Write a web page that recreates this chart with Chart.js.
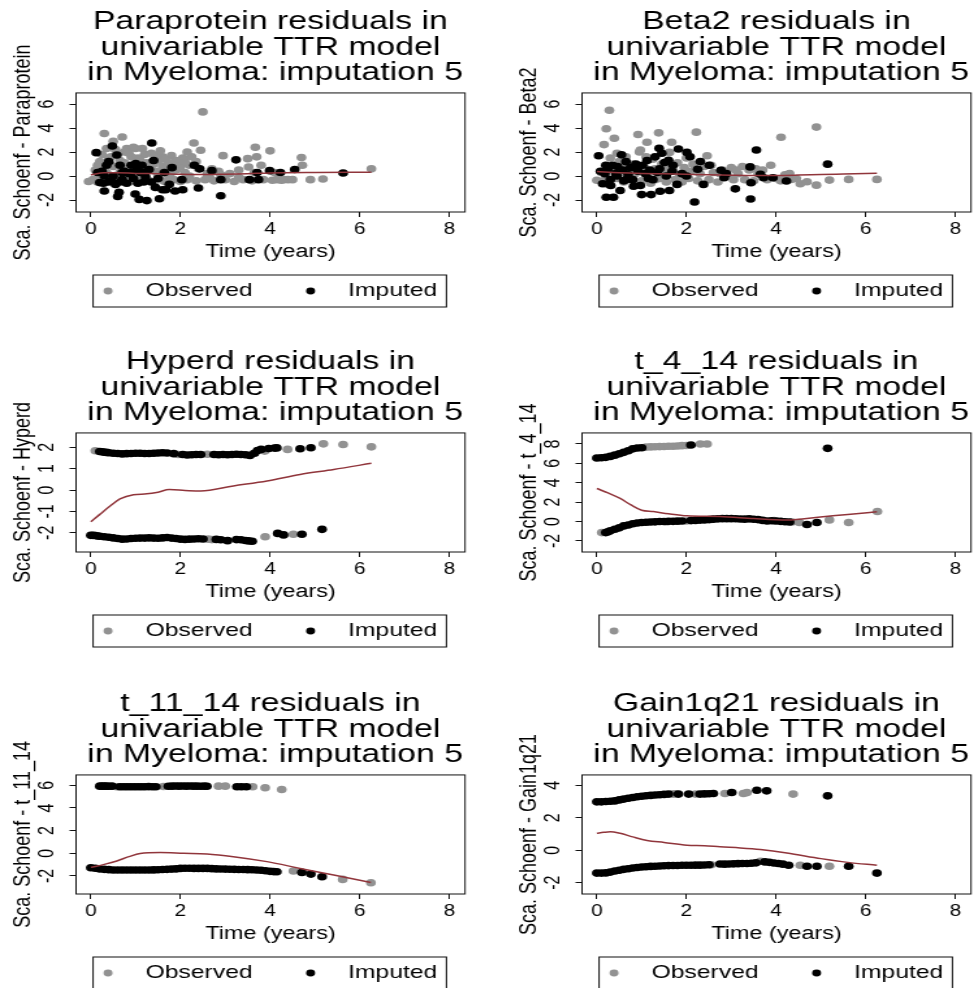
<!DOCTYPE html>
<html>
<head>
<meta charset="utf-8">
<script src="https://cdn.jsdelivr.net/npm/chart.js@4.4.1/dist/chart.umd.min.js"></script>
<style>
  html, body { margin: 0; padding: 0; background: #fff; }
  body { width: 974px; height: 988px; overflow: hidden; position: relative; }
  /* panels are laid out narrow and stretched sideways, like the exported graph */
  .panel { position: absolute; width: 416px; height: 340px; transform: scaleX(1.3); transform-origin: 0 0; }
</style>
</head>
<body>
<div class="panel" style="left:0;top:0"><canvas id="pPara" width="416" height="340"></canvas></div>
<div class="panel" style="left:506px;top:0"><canvas id="pBeta" width="416" height="340"></canvas></div>
<div class="panel" style="left:0;top:340px"><canvas id="pHyp" width="416" height="340"></canvas></div>
<div class="panel" style="left:506px;top:340px"><canvas id="p414" width="416" height="340"></canvas></div>
<div class="panel" style="left:0;top:682px"><canvas id="p1114" width="416" height="340"></canvas></div>
<div class="panel" style="left:506px;top:682px"><canvas id="pGain" width="416" height="340"></canvas></div>
<script>
// ── data: [time, scaled Schoenfeld residual] ────────────────────────────────
const X_TICKS = [0, 2, 4, 6, 8];

const paraObs = [[-0.05,-0.45],[0.05,-0.3],[0.15,-0.5],[0.2,1.2],[0.25,0.6],[0.3,3.55],[0.33,-0.2],[0.4,1.5],[0.45,0.9],[0.5,2.9],
  [0.55,-0.45],[0.6,1.9],[0.65,0.3],[0.7,3.25],[0.75,1.1],[0.8,2.3],[0.85,-0.3],[0.9,1.6],[0.95,0.6],[1.0,2.3],[1.05,-0.45],
  [1.1,1.3],[1.15,0.2],[1.2,1.8],[1.25,-0.3],[1.3,0.9],[1.35,1.9],[1.4,-0.5],[1.45,0.4],[1.5,1.3],[1.55,-0.3],[1.6,0.8],
  [1.65,-0.45],[1.7,0.2],[1.75,1.1],[1.8,1.7],[1.85,-0.3],[1.9,0.5],[1.95,1.0],[2.0,-0.45],[2.05,1.5],[2.1,0.3],[2.15,-0.3],
  [2.2,0.9],[2.3,2.75],[2.35,-0.4],[2.4,0.6],[2.45,2.15],[2.5,5.35],[2.55,-0.3],[2.6,0.2],[2.7,0.6],[2.75,-0.4],[2.85,0.4],
  [2.95,1.7],[3.0,-0.3],[3.1,0.2],[3.2,-0.45],[3.3,0.5],[3.4,-0.3],[3.5,1.45],[3.52,0.75],[3.6,-0.4],[3.67,2.4],[3.7,1.6],
  [3.8,0.9],[3.85,-0.3],[4.0,2.1],[4.05,-0.35],[4.15,-0.3],[4.3,-0.3],[4.4,-0.3],[4.7,1.55],[4.72,0.9],[4.9,-0.3],[5.18,-0.25],
  [6.26,0.6],[0.1,0.5],[0.2,-0.1],[0.35,0.3],[0.4,-0.4],[0.5,0.8],[0.6,-0.1],[0.7,0.6],[0.8,0.1],[0.9,-0.45],[1.0,0.9],
  [1.1,-0.2],[1.2,0.5],[1.3,-0.4],[1.4,1.0],[1.5,0.1],[1.6,1.6],[1.7,0.7],[1.8,0.3],[1.9,1.3],[2.0,0.8],[2.1,1.2],[2.2,0.0],
  [0.25,1.8],[0.55,2.2],[0.85,1.9],[1.15,2.3],[1.45,1.7],[1.75,0.0],[0.15,0.9],[0.45,1.6],[0.75,2.0],[1.05,1.5],[1.35,0.5],
  [2.25,1.6],[2.65,-0.1],[2.9,0.1],[3.3,-0.1],[3.65,0.3],[4.1,0.3],[4.5,-0.3],[4.25,-0.35],[0.65,1.3],[0.95,2.4],
  [1.25,1.1],[1.55,2.1],[1.85,0.9],[2.15,2.0],[0.35,2.3],[2.35,1.2],[1.65,1.4]];
const paraImp = [[0.12,1.95],[0.2,-0.55],[0.25,0.4],[0.3,-1.25],[0.35,0.9],[0.4,1.2],[0.45,-0.4],[0.48,2.5],[0.5,0.0],
  [0.55,-0.7],[0.58,1.75],[0.6,-1.7],[0.63,-1.35],[0.65,0.9],[0.7,-0.3],[0.75,0.4],[0.8,-0.6],[0.85,0.2],[0.9,0.9],
  [0.95,-0.2],[0.99,-1.5],[1.0,1.05],[1.03,0.5],[1.08,-1.95],[1.1,0.3],[1.14,0.9],[1.18,-0.5],[1.22,-0.05],[1.25,-2.05],
  [1.3,0.55],[1.36,2.75],[1.4,1.3],[1.44,-0.95],[1.5,-0.2],[1.53,-1.9],[1.6,-1.15],[1.64,0.3],[1.67,-1.15],[1.75,-0.7],
  [1.81,0.7],[1.88,-1.25],[2.03,-0.3],[2.05,-1.15],[2.31,0.9],[2.4,-1.0],[2.43,0.6],[2.7,0.45],[2.9,-0.3],[2.9,-1.65],
  [3.24,1.35],[3.54,-0.3],[3.71,0.3],[3.74,-0.3],[3.99,0.45],[4.23,0.3],[4.55,0.55],[5.63,0.25],[0.15,0.3],[0.3,0.0],
  [0.4,-0.5],[0.7,0.3],[0.9,0.3],[1.05,-0.6],[1.2,0.3],[1.35,-0.5],[0.28,-0.6],[0.65,-0.5]];
const paraFit = [[0,0.1],[0.3,0.28],[0.6,0.28],[1.0,0.22],[1.5,0.2],[2.0,0.14],[2.5,0.12],[3.0,0.15],[3.5,0.2],[4.0,0.26],
  [5.0,0.3],[6.26,0.32]];

const betaObs = [[0.0,-0.35],[0.1,0.3],[0.16,2.62],[0.21,3.94],[0.25,-0.7],[0.28,5.49],[0.3,1.5],[0.35,0.6],[0.39,3.15],
  [0.45,-0.2],[0.5,1.2],[0.55,0.3],[0.6,-0.5],[0.65,1.6],[0.7,0.5],[0.75,-0.3],[0.8,1.0],[0.85,0.2],[0.92,3.46],[0.95,2.0],
  [0.97,2.17],[1.0,-0.4],[1.05,0.8],[1.12,2.82],[1.15,0.3],[1.2,-0.6],[1.25,1.4],[1.3,0.6],[1.38,3.6],[1.4,-0.2],[1.45,1.0],
  [1.5,0.2],[1.55,-0.5],[1.62,1.97],[1.67,2.82],[1.7,0.5],[1.75,-0.3],[1.8,1.1],[1.85,0.1],[1.9,-0.5],[1.95,0.7],[2.0,1.5],
  [2.05,-0.2],[2.1,0.4],[2.15,1.0],[2.22,3.66],[2.25,-0.4],[2.3,0.2],[2.4,0.8],[2.46,1.69],[2.5,-0.3],[2.6,0.3],[2.7,-0.5],
  [2.8,0.5],[2.9,0.0],[3.0,0.7],[3.05,-0.3],[3.15,0.2],[3.25,0.8],[3.3,-0.3],[3.4,0.5],[3.5,-0.4],[3.6,0.2],[3.7,0.5],
  [3.8,-0.3],[3.88,0.9],[4.0,-0.2],[4.11,3.24],[4.2,0.1],[4.34,-0.28],[4.45,-0.2],[4.54,-0.65],[4.69,-0.48],[4.9,-0.76],
  [4.9,4.08],[5.19,-0.34],[5.62,-0.28],[6.25,-0.28],[0.2,-0.2],[0.45,1.9],[0.6,0.9],[0.9,-0.6],[1.1,1.6],[1.3,-0.3],
  [1.6,0.6],[2.2,0.6],[2.55,0.9],[2.75,0.2],[3.1,0.5],[3.55,0.6],[4.3,0.2],[4.1,-0.4]];
const betaImp = [[0.04,1.69],[0.08,0.4],[0.13,-0.65],[0.18,0.2],[0.21,-1.77],[0.25,0.6],[0.3,-0.3],[0.31,-0.79],[0.35,0.9],
  [0.37,-1.77],[0.42,0.2],[0.46,0.8],[0.52,-1.21],[0.55,1.77],[0.58,0.5],[0.6,-0.4],[0.65,1.2],[0.7,0.1],[0.75,0.7],
  [0.8,-0.3],[0.82,-0.85],[0.87,1.0],[0.92,0.4],[0.97,-0.79],[1.0,-1.55],[1.02,0.9],[1.08,0.2],[1.12,1.3],[1.18,0.5],
  [1.21,-1.55],[1.25,-0.3],[1.3,1.6],[1.35,0.3],[1.39,2.31],[1.41,-1.27],[1.45,1.9],[1.51,1.13],[1.55,0.0],[1.6,1.32],
  [1.62,-1.21],[1.68,0.4],[1.79,-0.7],[1.82,2.25],[1.9,0.2],[2.01,1.97],[2.08,1.61],[2.18,-2.17],[2.25,0.56],[2.31,1.21],
  [2.38,-0.7],[2.51,0.9],[2.77,0.48],[2.84,-0.14],[2.89,0.2],[3.09,-1.07],[3.42,0.76],[3.43,-1.92],[3.44,-0.56],[3.56,2.17],
  [3.65,0.14],[3.72,-0.14],[3.93,-0.14],[4.23,-0.42],[5.15,0.99],[0.65,-0.3],[0.9,0.7],[1.15,-0.2],[1.4,0.6],[1.7,0.9],
  [2.0,0.0],[0.45,0.0],[0.2,0.9]];
const betaFit = [[0,0.37],[0.5,0.28],[1.0,0.22],[1.5,0.18],[2.0,0.14],[2.5,0.1],[3.0,0.07],[3.5,0.05],[4.0,0.05],[4.5,0.08],
  [5.0,0.13],[5.5,0.17],[6.25,0.23]];

const hypObs = [[0.1,1.84],[1.95,1.66],[2.6,1.67],[3.88,1.82],[4.39,1.9],[5.19,2.16],[5.63,2.13],[6.26,2.02],
  [2.62,-2.3],[2.7,-2.32],[3.89,-2.19],[4.52,-2.07]];
const hypImp = [[0.2,1.8],[0.25,1.79],[0.3,1.77],[0.35,1.76],[0.4,1.74],[0.5,1.72],[0.6,1.71],[0.7,1.69],[0.8,1.7],
  [0.9,1.71],[1.0,1.72],[1.1,1.72],[1.2,1.71],[1.3,1.71],[1.4,1.72],[1.5,1.73],[1.6,1.74],[1.7,1.73],[1.85,1.7],[2.05,1.66],
  [2.15,1.64],[2.25,1.65],[2.35,1.66],[2.45,1.66],[2.75,1.66],[2.85,1.65],[2.95,1.66],[3.05,1.65],[3.15,1.66],[3.25,1.67],
  [3.35,1.66],[3.45,1.65],[3.55,1.62],[3.65,1.72],[3.72,1.85],[3.8,1.9],[3.97,1.94],[4.1,1.96],[4.15,1.97],[4.67,1.93],
  [4.91,1.98],
  [0.0,-2.12],[0.05,-2.12],[0.1,-2.13],[0.15,-2.15],[0.2,-2.16],[0.3,-2.19],[0.4,-2.21],[0.5,-2.24],[0.6,-2.27],[0.7,-2.3],
  [0.8,-2.29],[0.9,-2.27],[1.0,-2.26],[1.1,-2.25],[1.2,-2.25],[1.3,-2.24],[1.4,-2.25],[1.5,-2.26],[1.6,-2.24],[1.7,-2.22],
  [1.8,-2.25],[1.9,-2.27],[2.0,-2.3],[2.1,-2.31],[2.2,-2.3],[2.3,-2.29],[2.4,-2.28],[2.5,-2.29],[2.8,-2.31],[2.9,-2.33],
  [3.05,-2.37],[3.25,-2.32],[3.35,-2.33],[3.45,-2.36],[3.52,-2.38],[3.6,-2.4],[4.17,-2.03],[4.3,-2.1],[4.71,-2.07],[5.16,-1.84]];
const hypFit = [[0,-1.49],[0.2,-1.14],[0.43,-0.75],[0.65,-0.42],[0.95,-0.22],[1.25,-0.18],[1.5,-0.1],[1.75,0.02],
  [2.1,-0.02],[2.45,-0.05],[3.18,0.19],[3.93,0.42],[4.67,0.73],[5.42,0.96],[6.26,1.25]];

const t414Obs = [[1.1,7.68],[1.2,7.7],[1.3,7.72],[1.4,7.73],[1.5,7.74],[1.6,7.76],[1.7,7.77],[1.8,7.8],[1.9,7.83],[2.0,7.85],
  [2.31,8.0],[2.46,8.0],[0.11,-1.14],[1.55,-0.02],[2.0,0.06],[2.55,0.22],[3.95,0.1],[4.35,-0.05],[4.52,-0.1],[5.19,0.17],
  [5.62,-0.1],[6.26,1.03]];
const t414Imp = [[0.0,6.55],[0.1,6.58],[0.2,6.62],[0.3,6.72],[0.4,6.85],[0.5,7.0],[0.6,7.14],[0.7,7.3],[0.8,7.5],[0.9,7.58],
  [1.0,7.62],[2.1,7.9],[5.15,7.55],
  [0.2,-1.14],[0.25,-1.05],[0.3,-0.95],[0.4,-0.8],[0.5,-0.65],[0.6,-0.45],[0.7,-0.35],[0.8,-0.22],[0.9,-0.15],[1.0,-0.1],
  [1.1,-0.07],[1.2,-0.05],[1.3,-0.03],[1.4,0.0],[1.5,0.0],[1.6,0.02],[1.7,0.02],[1.8,0.04],[1.9,0.05],[2.1,0.1],[2.2,0.12],
  [2.3,0.15],[2.4,0.17],[2.5,0.2],[2.6,0.25],[2.7,0.28],[2.8,0.3],[2.9,0.3],[3.0,0.3],[3.1,0.29],[3.2,0.27],[3.3,0.25],
  [3.4,0.28],[3.5,0.24],[3.6,0.2],[3.7,0.12],[3.8,0.05],[3.9,0.08],[4.0,0.05],[4.1,0.02],[4.2,-0.02],[4.3,-0.05],
  [4.69,-0.31],[4.91,-0.1]];
const t414Fit = [[0,3.41],[0.25,2.95],[0.52,2.38],[0.75,1.75],[1.0,1.17],[1.26,1.03],[1.6,0.8],[2.01,0.59],[2.75,0.52],
  [3.5,0.31],[4.24,0.17],[4.99,0.48],[5.6,0.72],[6.25,1.0]];

const t1114Obs = [[0.58,5.88],[1.62,5.9],[2.85,5.93],[3.0,5.93],[3.61,5.88],[3.89,5.79],[4.26,5.64],
  [4.52,-1.57],[5.62,-2.31],[6.25,-2.61]];
const t1114Imp = [[0.2,5.93],[0.25,5.93],[0.3,5.93],[0.35,5.93],[0.4,5.92],[0.47,5.93],[0.65,5.88],[0.73,5.88],[0.81,5.88],
  [0.89,5.88],[0.97,5.88],[1.05,5.88],[1.13,5.88],[1.21,5.88],[1.29,5.89],[1.37,5.88],[1.45,5.88],[1.73,5.92],[1.81,5.93],
  [1.89,5.94],[1.97,5.93],[2.05,5.94],[2.13,5.93],[2.21,5.94],[2.29,5.93],[2.37,5.93],[2.45,5.92],[2.53,5.93],[2.59,5.92],
  [3.26,5.88],[3.36,5.88],[3.47,5.88],
  [0.0,-1.28],[0.1,-1.32],[0.2,-1.39],[0.3,-1.42],[0.4,-1.45],[0.5,-1.48],[0.6,-1.48],[0.7,-1.48],[0.8,-1.48],[0.9,-1.48],
  [1.0,-1.48],[1.1,-1.48],[1.2,-1.48],[1.3,-1.48],[1.4,-1.47],[1.5,-1.46],[1.6,-1.44],[1.7,-1.42],[1.8,-1.4],[1.9,-1.38],
  [2.0,-1.34],[2.1,-1.33],[2.2,-1.33],[2.3,-1.34],[2.4,-1.34],[2.5,-1.34],[2.6,-1.34],[2.7,-1.36],[2.8,-1.38],[2.9,-1.39],
  [3.0,-1.4],[3.1,-1.41],[3.2,-1.42],[3.3,-1.43],[3.4,-1.44],[3.5,-1.45],[3.6,-1.46],[3.7,-1.48],[3.8,-1.5],[3.9,-1.55],
  [4.0,-1.6],[4.08,-1.62],[4.15,-1.63],[4.71,-1.69],[4.91,-1.84],[5.16,-2.08]];
const t1114Fit = [[0,-1.25],[0.3,-0.98],[0.58,-0.68],[0.85,-0.3],[1.1,-0.02],[1.55,0.06],[2.07,0.0],[2.59,-0.06],
  [3.18,-0.3],[3.93,-0.74],[4.67,-1.34],[5.42,-1.93],[6.25,-2.58]];

const gainObs = [[1.7,3.46],[1.75,3.47],[2.2,3.46],[2.86,3.5],[3.27,3.5],[3.35,3.55],[4.38,3.46],
  [2.55,-0.9],[3.65,-0.68],[4.54,-0.93],[5.19,-0.99]];
const gainImp = [[0.0,2.98],[0.1,2.98],[0.2,3.0],[0.3,3.02],[0.4,3.04],[0.5,3.1],[0.6,3.15],[0.7,3.2],[0.8,3.25],[0.9,3.3],
  [1.0,3.33],[1.1,3.36],[1.2,3.38],[1.3,3.4],[1.4,3.42],[1.5,3.44],[1.6,3.46],[1.82,3.46],[2.05,3.46],[2.3,3.46],[2.4,3.47],
  [2.5,3.48],[2.6,3.5],[3.01,3.56],[3.57,3.7],[3.79,3.66],[5.15,3.35],
  [0.0,-1.41],[0.1,-1.41],[0.2,-1.4],[0.3,-1.35],[0.4,-1.28],[0.5,-1.24],[0.6,-1.18],[0.7,-1.14],[0.8,-1.1],[0.9,-1.07],
  [1.0,-1.04],[1.1,-1.02],[1.2,-1.0],[1.3,-0.99],[1.4,-0.97],[1.5,-0.96],[1.6,-0.95],[1.7,-0.94],[1.8,-0.94],[1.9,-0.93],
  [2.0,-0.93],[2.1,-0.93],[2.2,-0.92],[2.3,-0.92],[2.4,-0.91],[2.5,-0.9],[2.75,-0.85],[2.85,-0.86],[2.95,-0.85],[3.05,-0.84],
  [3.15,-0.83],[3.25,-0.82],[3.35,-0.82],[3.45,-0.8],[3.55,-0.78],[3.75,-0.72],[3.85,-0.75],[3.95,-0.79],[4.05,-0.82],
  [4.15,-0.86],[4.28,-0.93],[4.69,-0.99],[4.91,-0.99],[5.62,-0.99],[6.25,-1.41]];
const gainFit = [[0,1.04],[0.15,1.1],[0.3,1.14],[0.52,1.04],[0.8,0.82],[1.12,0.6],[1.5,0.48],[2.01,0.31],[2.4,0.28],
  [2.75,0.21],[3.2,0.14],[3.65,0.04],[4.24,-0.17],[5.0,-0.52],[5.6,-0.75],[6.25,-0.93]];

// ── styling ─────────────────────────────────────────────────────────────────
const FONT  = "'Liberation Sans', Arial, Helvetica, sans-serif";
const GREY  = '#929292';
const FIT   = '#90353b';
Chart.defaults.font.family = FONT;
Chart.defaults.color = '#000';

const legendPad = ['   ', '   '];
const legendTail = ['    ', ''];

// Plot frame + the box round the legend
const framePlugin = {
  id: 'frame',
  beforeDatasetsDraw(chart) {
    const { ctx, chartArea: a } = chart;
    ctx.save();
    ctx.strokeStyle = '#111';
    ctx.lineWidth = 1;
    ctx.strokeRect(a.left, a.top, a.right - a.left, a.bottom - a.top);
    ctx.restore();
  },
  afterDraw(chart) {
    const hb = chart.legend && chart.legend.legendHitBoxes;
    if (!hb || !hb.length) return;
    const last = hb[hb.length - 1];
    const mid  = hb[0].top + 9.5;
    const ctx  = chart.ctx;
    ctx.save();
    ctx.strokeStyle = '#111';
    ctx.lineWidth = 1;
    ctx.strokeRect(hb[0].left - 8, mid - 16, last.left + last.width + 7 - (hb[0].left - 8), 32);
    ctx.restore();
  },
};

function buildPanel(id, title, yLabel, yMin, yMax, yTicks, observed, imputed, fit) {
  new Chart(document.getElementById(id), {
    type: 'scatter',
    data: {
      datasets: [
        { label: 'Observed', data: observed, backgroundColor: GREY, borderColor: GREY,
          pointRadius: 3.8, pointBorderWidth: 0, order: 3 },
        { label: 'Imputed', data: imputed, backgroundColor: '#000', borderColor: '#000',
          pointRadius: 3.8, pointBorderWidth: 0, order: 2 },
        { label: 'lowess', data: fit, showLine: true, borderColor: FIT, backgroundColor: FIT,
          borderWidth: 1.5, pointRadius: 0, cubicInterpolationMode: 'monotone', order: 1 },
      ],
    },
    options: {
      responsive: false,
      animation: false,
      events: [],
      layout: { padding: { left: 0, right: 0, top: 0, bottom: 29.5 } },
      plugins: {
        tooltip: { enabled: false },
        title: {
          display: true,
          text: title,
          color: '#000',
          font: { size: 26, weight: 'normal', lineHeight: 0.98 },
          padding: { top: 9.25, bottom: 7.25 },
        },
        legend: {
          position: 'bottom',
          labels: {
            usePointStyle: true,
            boxWidth: 7,
            boxHeight: 4.9,
            padding: 20,
            color: '#000',
            font: { size: 19 },
            generateLabels: chart => Chart.defaults.plugins.legend.labels.generateLabels(chart)
              .filter(it => it.datasetIndex < 2)
              .sort((a, b) => a.datasetIndex - b.datasetIndex)
              .map(it => ({ ...it, text: legendPad[it.datasetIndex] + it.text + legendTail[it.datasetIndex] })),
          },
        },
      },
      scales: {
        x: {
          type: 'linear',
          min: -0.33,
          max: 8.35,
          afterBuildTicks: s => { s.ticks = X_TICKS.map(v => ({ value: v })); },
          afterFit: s => { s.height = 49.5; },
          border: { display: false },
          grid: { drawOnChartArea: false, drawTicks: true, tickLength: 5, color: '#111', lineWidth: 1 },
          ticks: { autoSkip: false, maxRotation: 0, padding: 3, color: '#000', font: { size: 16 },
                   callback: v => String(v) },
          title: { display: true, text: 'Time (years)', color: '#000', font: { size: 18 }, padding: { top: 0, bottom: -1 } },
        },
        y: {
          type: 'linear',
          position: 'left',
          min: yMin,
          max: yMax,
          afterBuildTicks: s => { s.ticks = yTicks.map(v => ({ value: v })); },
          afterFit: s => { s.width = 58.5; },
          border: { display: false },
          grid: { drawOnChartArea: false, drawTicks: true, tickLength: 5, color: '#111', lineWidth: 1 },
          ticks: { autoSkip: false, minRotation: 90, maxRotation: 90, crossAlign: 'center', padding: 10,
                   color: '#000', font: { size: 16 }, callback: v => String(v) },
          title: { display: true, text: yLabel, color: '#000', font: { size: 18 }, padding: { top: 7, bottom: 0 } },
        },
        // empty right-hand axis so the plot region sits in the middle of the canvas
        yr: {
          type: 'linear',
          position: 'right',
          display: true,
          border: { display: false },
          grid: { display: false, drawTicks: false },
          ticks: { display: false },
          afterFit: s => { s.width = 58.3; },
        },
      },
    },
    plugins: [framePlugin],
  });
}

const head = name => [name + ' residuals in', 'univariable TTR model', ' in Myeloma: imputation 5'];

buildPanel('pPara', head('Paraprotein'), 'Sca. Schoenf - Paraprotein', -3.0, 6.93, [-2, 0, 2, 4, 6], paraObs, paraImp, paraFit);
buildPanel('pBeta', head('Beta2'),       'Sca. Schoenf - Beta2',       -3.0, 6.93, [-2, 0, 2, 4, 6], betaObs, betaImp, betaFit);
buildPanel('pHyp',  head('Hyperd'),      'Sca. Schoenf - Hyperd',      -2.9, 2.67, [-2, -1, 0, 1, 2], hypObs, hypImp, hypFit);
buildPanel('p414',  head('t_4_14'),      'Sca. Schoenf - t_4_14',      -3.14, 9.14, [-2, 0, 2, 4, 6, 8], t414Obs, t414Imp, t414Fit);
buildPanel('p1114', head('t_11_14'),     'Sca. Schoenf - t_11_14',     -3.6, 6.92, [-2, 0, 2, 4, 6], t1114Obs, t1114Imp, t1114Fit);
buildPanel('pGain', head('Gain1q21'),    'Sca. Schoenf - Gain1q21',    -2.7, 4.64, [-2, 0, 2, 4], gainObs, gainImp, gainFit);
</script>
</body>
</html>
